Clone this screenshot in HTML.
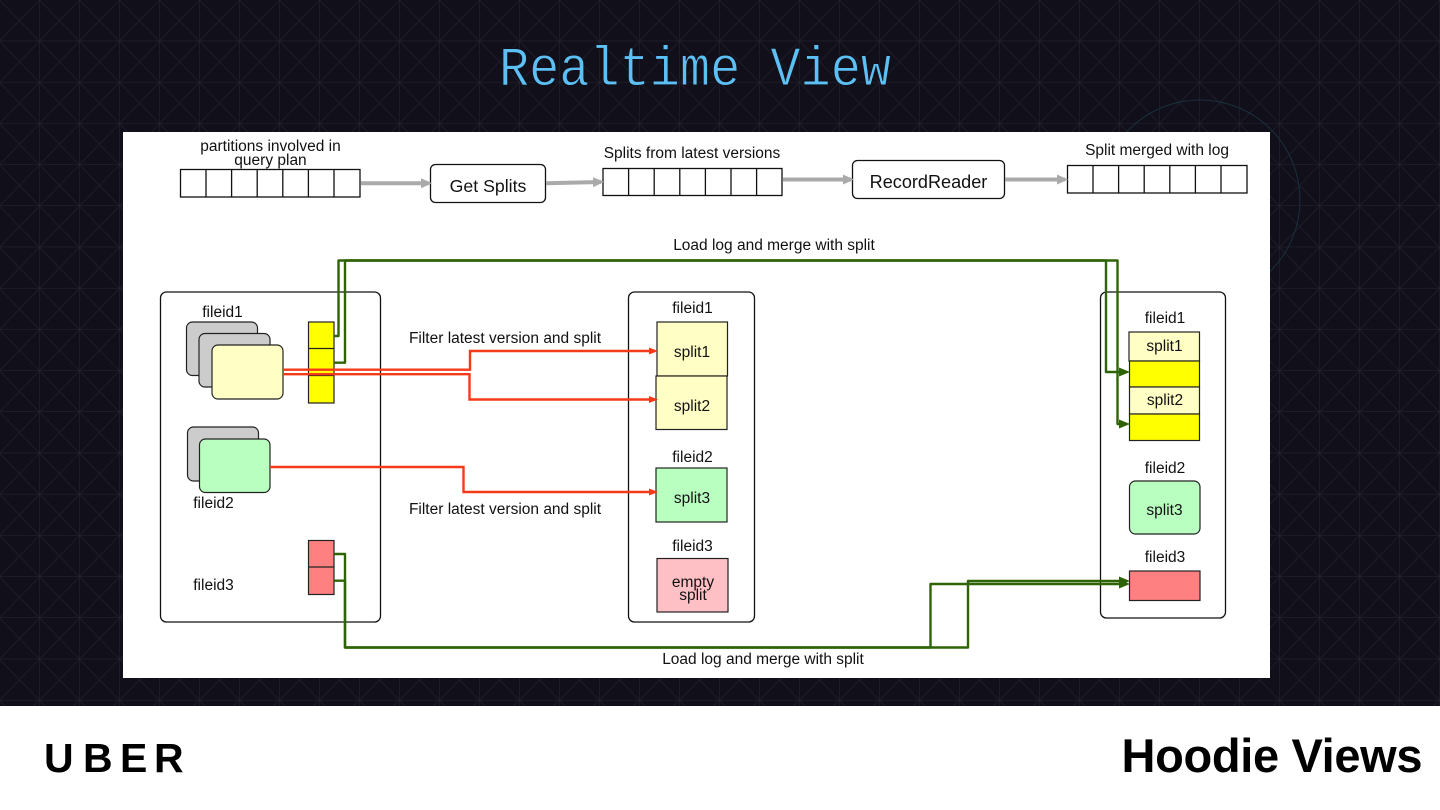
<!DOCTYPE html>
<html><head><meta charset="utf-8"><style>
html,body{margin:0;padding:0;background:#11101a;width:1440px;height:810px;overflow:hidden}
svg{display:block}
text{font-family:"Liberation Sans",sans-serif;font-size:15.5px;fill:#111;text-anchor:middle}
</style></head><body>
<svg width="1440" height="810" viewBox="0 0 1440 810" xmlns="http://www.w3.org/2000/svg">
<defs>
<pattern id="g" x="-0.5" y="0" width="40" height="41.2" patternUnits="userSpaceOnUse">
<path d="M0 0L40 41.2M40 0L0 41.2" stroke="#1c1b28" stroke-width="1" fill="none"/>
<path d="M40 0V41.2M0 41.2H40" stroke="#272633" stroke-width="1" fill="none"/>
</pattern>
<marker id="ag" markerUnits="userSpaceOnUse" markerWidth="12" markerHeight="12" refX="8" refY="6" orient="auto"><path d="M0 1.5L11 6L0 10.5Z" fill="#2e6306"/></marker>
<marker id="ar" markerUnits="userSpaceOnUse" markerWidth="10" markerHeight="10" refX="6" refY="5" orient="auto"><path d="M0 1.5L9 5L0 8.5Z" fill="#f53a1a"/></marker>
<marker id="ay" markerUnits="userSpaceOnUse" markerWidth="12" markerHeight="12" refX="8" refY="6" orient="auto"><path d="M0 1L11 6L0 11Z" fill="#aaa"/></marker>
</defs>
<rect width="1440" height="706" fill="#11101a"/>
<rect width="1440" height="706" fill="url(#g)"/>
<circle cx="1200" cy="200" r="100" fill="none" stroke="#1a2f3c" stroke-width="1"/>
<text x="695" y="85" style="font-family:'Liberation Mono',monospace;font-size:56px;fill:#5cc0f5;stroke:#11101a;stroke-width:0.9px" textLength="392" lengthAdjust="spacingAndGlyphs">Realtime View</text>
<rect x="123" y="132" width="1147" height="546" fill="#fff"/>
<rect y="706" width="1440" height="104" fill="#fff"/>
<text x="44 83 120 154" y="772" style="font-size:41px;font-weight:bold;fill:#000;text-anchor:start">UBER</text>
<text x="1272" y="772" style="font-size:47px;font-weight:bold;fill:#000" textLength="301">Hoodie Views</text>

<g fill="none" stroke="#111" stroke-width="1.3">
<rect x="180.500" y="169.500" width="179.500" height="27.500"/><path d="M206 169.500V197M231.600 169.500V197M257.200 169.500V197M282.800 169.500V197M308.400 169.500V197M334 169.500V197"/>
<rect x="603" y="168.500" width="179" height="27"/><path d="M628.600 168.500V195.500M654.200 168.500V195.500M679.800 168.500V195.500M705.400 168.500V195.500M731 168.500V195.500M756.600 168.500V195.500"/>
<rect x="1067.500" y="165.500" width="179.500" height="27.500"/><path d="M1093 165.500V193M1118.600 165.500V193M1144.200 165.500V193M1169.800 165.500V193M1195.400 165.500V193M1221 165.500V193"/>
<rect x="430.500" y="164.500" width="115" height="38" rx="5"/>
<rect x="852.500" y="160.500" width="152" height="38" rx="5"/>
<rect x="160.500" y="292" width="220" height="330" rx="6"/>
<rect x="628.500" y="292" width="126" height="330" rx="6"/>
<rect x="1100.500" y="292" width="125" height="326" rx="6"/>
</g>
<g fill="none" stroke="#aaa" stroke-width="4">
<path d="M361 183.300H429" marker-end="url(#ay)"/>
<path d="M546 183.300L601 182" marker-end="url(#ay)"/>
<path d="M783 179.500H851" marker-end="url(#ay)"/>
<path d="M1005 179.500H1065" marker-end="url(#ay)"/>
</g>

<g stroke="#222" stroke-width="1.2">
<rect x="186.500" y="322" width="71" height="53.500" rx="6" fill="#ccc"/>
<rect x="199" y="333.500" width="71" height="53.500" rx="6" fill="#ccc"/>
<rect x="212" y="345" width="71" height="54" rx="6" fill="#ffffc5"/>
<rect x="187.500" y="427" width="71" height="54" rx="6" fill="#ccc"/>
<rect x="199.500" y="439" width="70.500" height="53.500" rx="6" fill="#b9ffc0"/>
<rect x="308.500" y="322" width="25.500" height="81" fill="#ff0"/><path d="M308.500 348.500H334M308.500 375.500H334" fill="none"/>
<rect x="308.500" y="540.500" width="25.500" height="54" fill="#ff8080"/><path d="M308.500 567H334" fill="none"/>
<rect x="657" y="322" width="70.500" height="54" fill="#ffffc5"/>
<rect x="656" y="376" width="71" height="53.500" fill="#ffffc5"/>
<rect x="656" y="468" width="71" height="54" fill="#b9ffc0"/>
<rect x="657" y="558.500" width="71" height="53.500" fill="#ffc0c5"/>
<rect x="1129" y="332" width="70.500" height="29" fill="#ffffc5"/>
<rect x="1129.500" y="361" width="70" height="26" fill="#ff0"/>
<rect x="1129.500" y="387" width="70" height="27" fill="#ffffc5"/>
<rect x="1129.500" y="414" width="70" height="26.500" fill="#ff0"/>
<rect x="1129.500" y="481" width="70.500" height="53" rx="6" fill="#b9ffc0"/>
<rect x="1129.500" y="571" width="70.500" height="29.500" fill="#ff8080"/>
</g>

<g fill="none" stroke="#f53a1a" stroke-width="2.4">
<path d="M283 369.700H470V351H655" marker-end="url(#ar)"/>
<path d="M283 374.200H469.500V399.500H655" marker-end="url(#ar)"/>
<path d="M270 467H463.500V492H655" marker-end="url(#ar)"/>
</g>
<g fill="none" stroke="#2e6306" stroke-width="2.4" stroke-linejoin="round">
<path d="M334 336H338.500V260.500H1106V372H1127" marker-end="url(#ag)"/>
<path d="M334 362.700H345V260.500H1117.500V424H1127" marker-end="url(#ag)"/>
<path d="M334 554H345V647.500H968V581H1127" marker-end="url(#ag)"/>
<path d="M334 580.700H345V647.500H930.500V584H1127" marker-end="url(#ag)"/>
</g>

<text x="270.500" y="151">partitions involved in</text>
<text x="270.500" y="165">query plan</text>
<text x="488" y="192" style="font-size:17.700px">Get Splits</text>
<text x="692" y="158">Splits from latest versions</text>
<text x="928.500" y="188" style="font-size:18.100px">RecordReader</text>
<text x="1157" y="155">Split merged with log</text>
<text x="774" y="250">Load log and merge with split</text>
<text x="763" y="664">Load log and merge with split</text>
<text x="505" y="343">Filter latest version and split</text>
<text x="505" y="514">Filter latest version and split</text>
<text x="222.500" y="317">fileid1</text>
<text x="213.500" y="508">fileid2</text>
<text x="213.500" y="590">fileid3</text>
<text x="692.500" y="313">fileid1</text>
<text x="692.500" y="462">fileid2</text>
<text x="692.500" y="551">fileid3</text>
<text x="692" y="357">split1</text>
<text x="692" y="411">split2</text>
<text x="692" y="503">split3</text>
<text x="693" y="587">empty</text>
<text x="693" y="600">split</text>
<text x="1165" y="323">fileid1</text>
<text x="1164.500" y="351">split1</text>
<text x="1165" y="405">split2</text>
<text x="1165" y="473">fileid2</text>
<text x="1164.500" y="515">split3</text>
<text x="1165" y="562">fileid3</text>
</svg>
</body></html>
